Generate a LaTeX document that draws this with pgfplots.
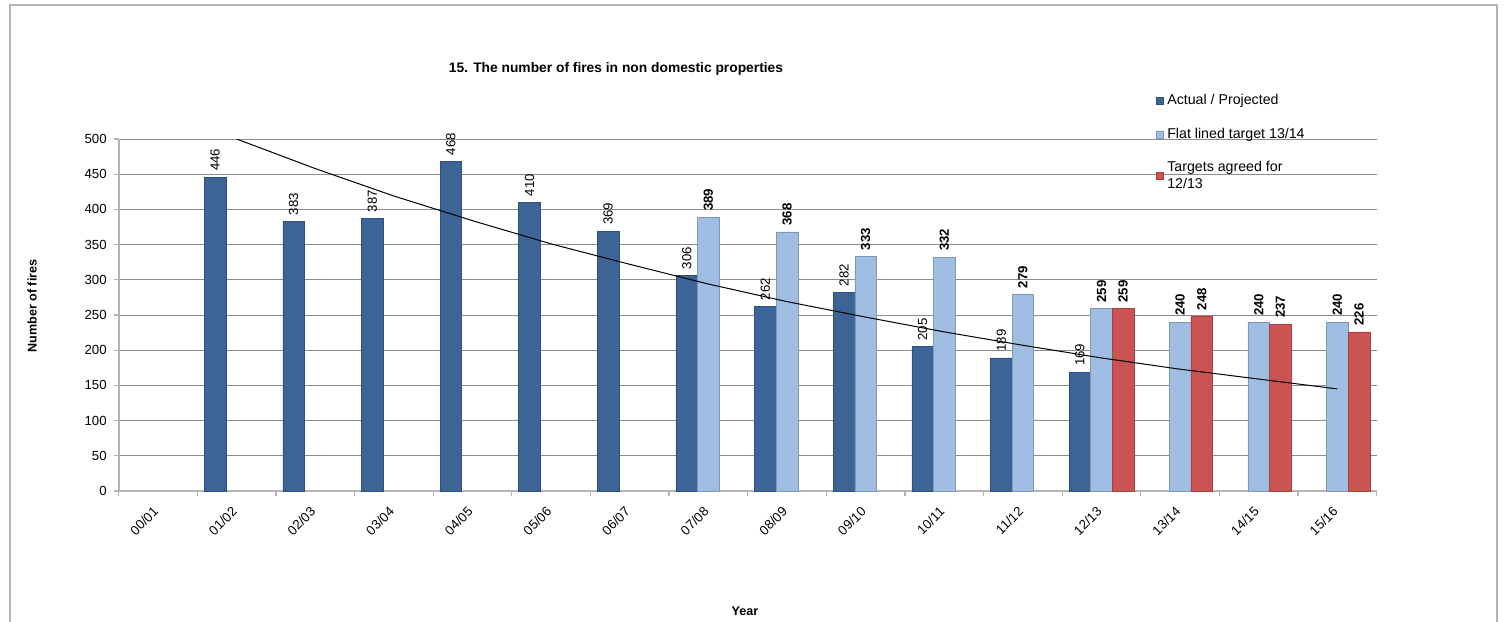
\documentclass[border=0pt]{standalone}
\usepackage{fontspec}
\setmainfont{Liberation Sans}
\usepackage{pgfplots}
\pgfplotsset{compat=1.18}
\definecolor{actual}{HTML}{3C6496}
\definecolor{flat}{HTML}{A0BEE4}
\definecolor{target}{HTML}{CB5452}
\definecolor{gridc}{HTML}{8C8C8C}
\definecolor{axc}{HTML}{B4B4B4}
\newcommand{\tickfont}{\fontsize{6.6}{7.5}\selectfont}
\pgfplotsset{/pgf/number format/assume math mode=true}

\begin{document}
\begin{tikzpicture}[x=0.5pt,y=-0.5pt]
\useasboundingbox (0,0) rectangle (1504,621);
\clip (0,0) rectangle (1504,621);
\draw[color=axc, line width=0.75pt] (10,5) rectangle (1497,660);
\node[font=\bfseries\fontsize{6.9}{8}\selectfont] at (616,69) {15. The number of fires in non domestic properties};
\node[font=\bfseries\fontsize{6.3}{7.5}\selectfont, rotate=90] at (32,306) {Number of fires};
\node[font=\bfseries\fontsize{6.3}{7.5}\selectfont] at (745,611) {Year};

\begin{axis}[
    at={(59.35pt,-245.5pt)}, anchor=south west,
    scale only axis, width=629pt, height=176pt,
    xmin=-0.5, xmax=15.5, ymin=0, ymax=500,
    axis x line*=bottom, axis y line*=left,
    axis line style={axc, line width=1pt},
    ytick={0,50,...,500},
    ymajorgrids, grid style={gridc, line width=0.5pt},
    tick align=outside, major tick length=2.5pt,
    ytick style={axc, line width=0.6pt},
    xtick={0,...,15},
    xtick style={draw=none},
    xticklabels={00/01,01/02,02/03,03/04,04/05,05/06,06/07,07/08,08/09,09/10,10/11,11/12,12/13,13/14,14/15,15/16},
    x tick label style={rotate=45, anchor=north east, font=\tickfont, xshift=-2pt, yshift=2pt},
    y tick label style={font=\tickfont},
    extra x ticks={-0.5,0.5,...,15.5},
    extra x tick labels={},
    extra x tick style={xtick style={axc, line width=0.6pt, draw=axc}, grid=none},
    clip=true,
    legend style={at={(axis description cs:0.824,1.139)}, anchor=north west,
        draw=none, fill=none, font=\fontsize{7.1}{8.5}\selectfont,
        row sep=6pt, inner sep=0pt,
        cells={anchor=west, align=left}},
    legend image code/.code={\fill[#1] (0pt,-1.75pt) rectangle (3.5pt,1.75pt);},
]

% Actual / Projected
\addplot[ybar, bar width=0.275, bar shift=-0.275, fill=actual, draw=actual!80!black, line width=0.3pt,
    nodes near coords,
    every node near coord/.style={xshift=-10.81pt, rotate=90, anchor=west, font=\tickfont,
        inner xsep=3pt, inner ysep=0pt, text=black}] coordinates {
    (1,446) (2,383) (3,387) (4,468) (5,410) (6,369)
    (7,306) (8,262) (9,282) (10,205) (11,189) (12,169)
};
\addlegendentry{Actual / Projected}

% Flat lined target 13/14
\addplot[ybar, bar width=0.275, bar shift=0, fill=flat, draw=flat!80!black, line width=0.3pt,
    nodes near coords,
    every node near coord/.style={rotate=90, anchor=west, font=\bfseries\tickfont,
        inner xsep=3pt, inner ysep=0pt, text=black}] coordinates {
    (7,389) (8,368) (9,333) (10,332) (11,279) (12,259)
    (13,240) (14,240) (15,240)
};
\addlegendentry{Flat lined target 13/14}

% Targets agreed for 12/13
\addplot[ybar, bar width=0.275, bar shift=0.275, fill=target, draw=target!80!black, line width=0.3pt,
    nodes near coords,
    every node near coord/.style={xshift=10.81pt, rotate=90, anchor=west, font=\bfseries\tickfont,
        inner xsep=3pt, inner ysep=0pt, text=black}] coordinates {
    (12,259) (13,248) (14,237) (15,226)
};
\addlegendentry{Targets agreed for\\12/13}

\addplot[black, line width=0.5pt, sharp plot, mark=none, forget plot] coordinates {
    (1,500) (2,458) (3,419) (4,384) (5,351) (6,322) (7,294) (8,269)
    (9,247) (10,226) (11,207) (12,189) (13,173) (14,159) (15,145)
};
\end{axis}
\end{tikzpicture}
\end{document}
